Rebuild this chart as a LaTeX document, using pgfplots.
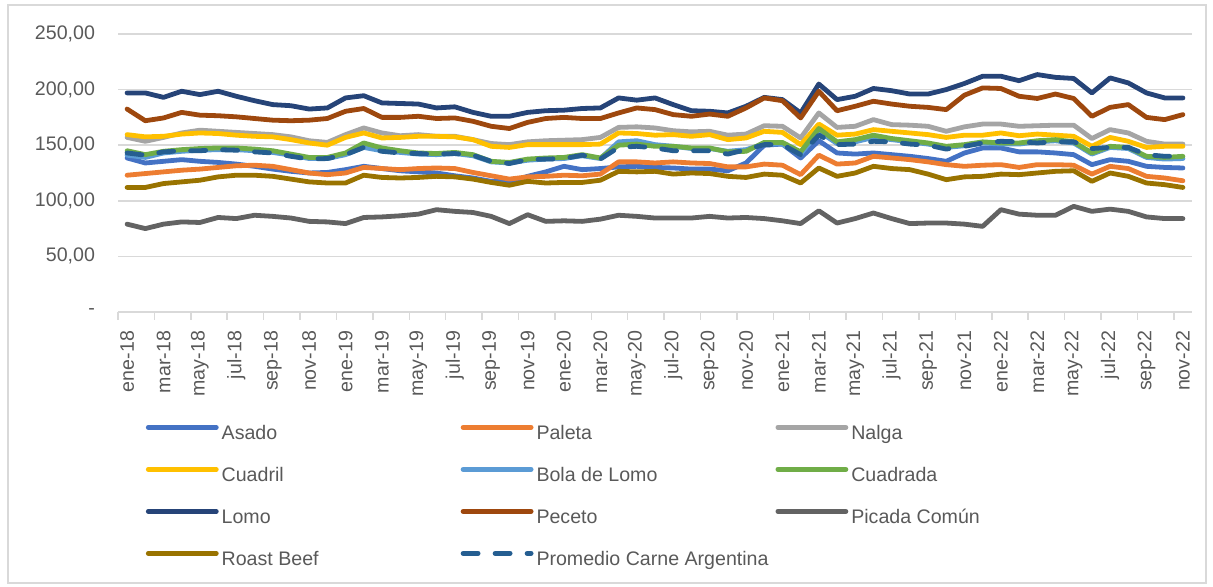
\documentclass[border=0pt]{standalone}
\usepackage{pgfplots}
\pgfplotsset{compat=1.18}
\usepackage{pgfplotstable}
\usepackage{fontspec}
\setmainfont{Liberation Sans}
\definecolor{cAsado}{HTML}{4472C4}
\definecolor{cPaleta}{HTML}{ED7D31}
\definecolor{cNalga}{HTML}{A5A5A5}
\definecolor{cCuadril}{HTML}{FFC000}
\definecolor{cBola}{HTML}{5B9BD5}
\definecolor{cCuadrada}{HTML}{70AD47}
\definecolor{cLomo}{HTML}{264478}
\definecolor{cPeceto}{HTML}{9E480E}
\definecolor{cPicada}{HTML}{636363}
\definecolor{cRoast}{HTML}{997300}
\definecolor{cProm}{HTML}{255E91}
\definecolor{gridgray}{HTML}{D9D9D9}
\definecolor{labelgray}{HTML}{595959}
\pgfplotstableread{
i asado paleta nalga cuadril bola cuadrada lomo peceto picada roast prom
0 138.5 123 157 159.5 141 145 197 182.5 79 112 143
1 134 124.5 153.5 157.5 139 141.5 197 172 75 112 141
2 135.5 126 157 158 143 144.5 193 174.5 79 115.5 144
3 137 127.5 161 160 144.5 146 198.5 179.5 81 117 145
4 135.5 128.5 163.5 161 145.5 147 195.5 177 80.5 118.5 145
5 134.5 130 162.5 160.5 146 147.5 198.5 176.5 85 121.5 146
6 133 131.5 161.5 159 146 147.5 194 175.5 84 123 145.5
7 131 132 160.5 158 145 146.5 190 174 87 123 144
8 128.5 131 159.5 157.5 143.5 145 186.5 172.5 86 122 143
9 126.5 128 157.5 155 141 142 185.5 172 84.5 119.5 140
10 125 125 154 152 138 139 182.5 172.5 81.5 117 137.5
11 125.5 123.5 152.5 150 138 139 183.5 174 81 116 138
12 128 125 159.5 157 141.5 143 192.5 180.5 79.5 116 141.5
13 131 130 165.5 161 148 152 194.5 183 85 123 148
14 129 129 161 156.5 145 147.5 188 175 85.5 121 144.5
15 127 128 158.5 157 143.5 145 187.5 175 86.5 120.5 143
16 126 129 159.5 158 142 143 187 176 88 121 142.5
17 125 129.5 158 158 141.5 142.5 183.5 174 92 122 142
18 122.5 129 158 157.5 142.5 143.5 184.5 174.5 90.5 121.5 142.5
19 120.5 125.5 155 155 140.5 141.5 179.5 171.5 89.5 119.5 141
20 117.5 122.5 151.5 149 135 135.5 176 167 86 116.5 135.5
21 117 119.5 150.5 148 134 134.5 176 165 79.5 114 133.5
22 122 121.5 153 150.5 136.5 137.5 179.5 170.5 87.5 117.5 137
23 126 122 154 150.5 137.5 138.5 181 174 81.5 116 137.5
24 131 123 154.5 150.5 138 139 181.5 175 82 116.5 138
25 128 122.5 155 150.5 140.5 141.5 183 174 81.5 116.5 141
26 129 124 157 151 138 138.5 183.5 174 83.5 118.5 137.5
27 130.5 135 166 161 153 150 192.5 179 87 126.5 148
28 131 135 166.5 160.5 154 151 190.5 183.5 86 126 149
29 130 134 165.5 159 150.5 149 192.5 182 84.5 126.5 147.5
30 129.5 135 163 159.5 149 149 186.5 177.5 84.5 124 145
31 128.5 134 162 158 147 147.5 181 176 84.5 125 145
32 128.5 133.5 162.5 159.5 147 147.5 180.5 178 86 124.5 145
33 127 130.5 159 155 144.5 144 179 176 84.5 122 142
34 134 130.5 160 156.5 146 144.5 185 183.5 85 121 146
35 150 133 167.5 162.5 151 152.5 193 192.5 84 124 150.5
36 151 132 167 161.5 151 152.5 191 190 82 123 150.5
37 138.5 123.5 156.5 150.5 142 144 179 174.5 79.5 116 141.5
38 154 141 179 169 162.5 165 205 198.5 91 129.5 159
39 143 133 166 159 151.5 153 191 181 80 122 150.5
40 142 134 167 160 153 155 194 185 84 125 151
41 143 140 173 164 157 159 201 189.5 89 131 153.5
42 141.5 138.5 168.5 162.5 155 156 199 187 84 129 153
43 140 137 168 161 153 154 196 185 79.5 128 151
44 138 135 167 159.5 151 152 196 184 80 124 150
45 135.5 132.5 162.5 157 148 149 200 182 80 119 146.5
46 143 131 166.5 159 149.5 150.5 205.5 195 79 121.5 149
47 147.5 132 169 159 152 153 212 201.5 77 122 152
48 147.5 132.5 169 161 151 152 212 201 92 124 153.5
49 144 130 167 158.5 151 152 208 194 88 123.5 153
50 144 132.5 167.5 160 153 154 213.5 192 87 125 152
51 143 132.5 168 159 154 155 211 196 87 126.5 153
52 141.5 132 168 158 152 153 210 192 95 127 153
53 132.5 124 156 149 142 143 197 176 90.5 117.5 147
54 137 131 164 157 148 149 210.5 184 92.5 125 148
55 135.5 129 161 153.5 147 148 206 186.5 90.5 122 148
56 131 122 153.5 148 139 140 197 175 85.5 116 141.5
57 130 120.5 151 149 137.5 139 192.5 173 84 114.5 140
58 129.5 118 151 149 138 140 192.5 177.5 84 112 140
}\datatable
\newcommand{\legtxt}[1]{\makebox[118pt][l]{#1}}
\begin{document}
\begin{tikzpicture}
\path[use as bounding box] (0,0) rectangle (606.5pt,293.5pt);
\draw[gridgray, line width=0.75pt] (4pt,2pt) rectangle (603pt,291pt);
\begin{axis}[
  at={(59pt,137.5pt)}, anchor=south west,
  scale only axis, width=537pt, height=139pt,
  xmin=-0.5, xmax=58.5, ymin=0, ymax=250,
  axis x line*=bottom, axis y line*=left,
  x axis line style={draw=gridgray, line width=0.75pt, -},
  y axis line style={draw=none},
  font=\fontsize{9.8}{11.8}\selectfont,
  /pgf/number format/assume math mode=true,
  tick label style={text=labelgray},
  ymajorgrids, major grid style={draw=gridgray, line width=0.75pt},
  ytick={0,50,100,150,200,250},
  yticklabels={{-\hspace{6pt}},{50,00},{100,00},{150,00},{200,00},{250,00}},
  ytick style={draw=none},
  yticklabel style={xshift=-8pt},
  xtick={-0.5,1.5,...,58.5},
  xticklabels={},
  xtick align=outside,
  xtick style={draw=gridgray, line width=0.75pt},
  major tick length=4pt,
  extra x ticks={0,2,...,58},
  extra x tick labels={ene-18,mar-18,may-18,jul-18,sep-18,nov-18,ene-19,mar-19,may-19,jul-19,sep-19,nov-19,ene-20,mar-20,may-20,jul-20,sep-20,nov-20,ene-21,mar-21,may-21,jul-21,sep-21,nov-21,ene-22,mar-22,may-22,jul-22,sep-22,nov-22},
  extra x tick style={grid=none, major tick length=0pt, xticklabel style={rotate=90, anchor=east, yshift=0pt, xshift=-6pt}},
  every axis plot/.append style={line width=2.4pt, line join=round, line cap=round},
  legend columns=3,
  legend cell align=left,
  legend style={at={(0.0256,-0.403)}, anchor=north west, draw=none, fill=none, inner sep=0pt,
    column sep=0pt, row sep=11pt,
    nodes={inner xsep=1.5pt, inner ysep=0pt, text height=7.5pt, text depth=2.5pt, text=labelgray}},
  legend image code/.code={\draw[#1] (0pt,3.5pt) -- (34pt,3.5pt);},
]
\addplot[cAsado] table[x=i,y=asado]{\datatable}; \addlegendentry{\legtxt{Asado}}
\addplot[cPaleta] table[x=i,y=paleta]{\datatable}; \addlegendentry{\legtxt{Paleta}}
\addplot[cNalga] table[x=i,y=nalga]{\datatable}; \addlegendentry{\legtxt{Nalga}}
\addplot[cCuadril] table[x=i,y=cuadril]{\datatable}; \addlegendentry{\legtxt{Cuadril}}
\addplot[cBola] table[x=i,y=bola]{\datatable}; \addlegendentry{\legtxt{Bola de Lomo}}
\addplot[cCuadrada] table[x=i,y=cuadrada]{\datatable}; \addlegendentry{\legtxt{Cuadrada}}
\addplot[cLomo] table[x=i,y=lomo]{\datatable}; \addlegendentry{\legtxt{Lomo}}
\addplot[cPeceto] table[x=i,y=peceto]{\datatable}; \addlegendentry{\legtxt{Peceto}}
\addplot[cPicada] table[x=i,y=picada]{\datatable}; \addlegendentry{\legtxt{Picada Común}}
\addplot[cRoast] table[x=i,y=roast]{\datatable}; \addlegendentry{\legtxt{Roast Beef}}
\addplot[cProm, dash pattern=on 7.5pt off 8.5pt] table[x=i,y=prom]{\datatable}; \addlegendentry{\legtxt{Promedio Carne Argentina}}
\end{axis}
\end{tikzpicture}
\end{document}
